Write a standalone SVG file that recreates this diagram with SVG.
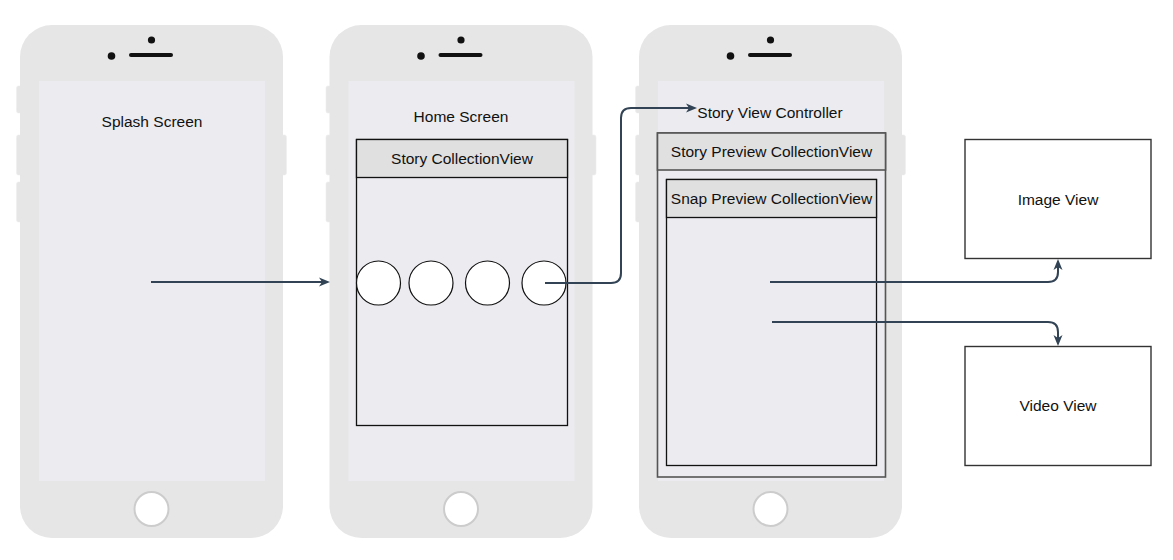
<svg xmlns="http://www.w3.org/2000/svg" width="1173" height="560" viewBox="0 0 1173 560">
  <style>
    .body { fill: #e6e6e6; }
    .btn { fill: #e6e6e6; stroke: #efefef; stroke-width: 0.6; }
    .screen { fill: #ebebf0; }
    .dot { fill: #111; }
    .speaker { stroke: #111; stroke-width: 4; stroke-linecap: round; fill: none; }
    .home { fill: #fff; stroke: #cccccc; stroke-width: 2; }
    .lbl { font-family: "Liberation Sans", Arial, Helvetica, sans-serif; font-size: 15.5px; fill: #111; text-anchor: middle; }
    .hdr { fill: #e0e0e0; stroke: #111; stroke-width: 1.3; }
    .frame { fill: none; stroke: #111; stroke-width: 1.3; }
    .outer { fill: none; stroke: #555; stroke-width: 1.6; }
    .cell { fill: #fff; stroke: #111; stroke-width: 1.2; }
    .box { fill: #fff; stroke: #333; stroke-width: 1.4; }
    .edge { fill: none; stroke: #314354; stroke-width: 2; marker-end: url(#arrow); }
  </style>
  <defs>
    <marker id="arrow" markerUnits="userSpaceOnUse" markerWidth="12" markerHeight="11" refX="3" refY="5" orient="auto" viewBox="0 0 12 11">
      <path d="M0,0.5 L11,5 L0,9.5 L3,5 Z" fill="#314354"/>
    </marker>
    <!-- phone shell reused for all three screens -->
    <g id="phone">
      <rect class="btn" x="16.5" y="86" width="6" height="27" rx="2"/>
      <rect class="btn" x="16.5" y="135" width="6" height="40" rx="2"/>
      <rect class="btn" x="16.5" y="182" width="6" height="40" rx="2"/>
      <rect class="btn" x="280.5" y="135" width="6" height="40" rx="2"/>
      <rect class="body" x="20" y="25" width="263" height="513" rx="32"/>
      <rect class="screen" x="39" y="81" width="226" height="400"/>
      <circle class="dot" cx="111.5" cy="56" r="3.8"/>
      <circle class="dot" cx="151.5" cy="40" r="3.6"/>
      <line class="speaker" x1="131" y1="55" x2="171" y2="55"/>
      <circle class="home" cx="151.5" cy="509" r="17"/>
    </g>
  </defs>

  <g id="splash-screen">
    <use href="#phone"/>
    <text class="lbl" x="152" y="127">Splash Screen</text>
  </g>

  <g id="home-screen">
    <use href="#phone" transform="translate(309.5,0)"/>
    <text class="lbl" x="461" y="122">Home Screen</text>
  </g>

  <g id="story-collection-view">
    <rect class="frame" x="356.5" y="139.5" width="211" height="286"/>
    <rect class="hdr" x="356.5" y="139.5" width="211" height="38"/>
    <text class="lbl" x="462" y="164">Story CollectionView</text>
  </g>

  <g id="story-cells">
    <circle class="cell" cx="378.5" cy="283" r="22"/>
    <circle class="cell" cx="431" cy="283" r="22"/>
    <circle class="cell" cx="487.5" cy="283" r="22"/>
    <circle class="cell" cx="544" cy="283" r="22"/>
  </g>

  <g id="story-view-controller">
    <use href="#phone" transform="translate(619,0)"/>
    <text class="lbl" x="770" y="118">Story View Controller</text>
  </g>

  <g id="story-preview-collection-view">
    <rect class="outer" x="657.5" y="133" width="228" height="344"/>
    <rect class="hdr" x="657.5" y="133" width="228" height="37" style="stroke:#555;stroke-width:1.6"/>
    <text class="lbl" x="771.5" y="157">Story Preview CollectionView</text>
  </g>

  <g id="snap-preview-collection-view">
    <rect class="frame" x="666.5" y="179.5" width="210" height="286"/>
    <rect class="hdr" x="666.5" y="179.5" width="210" height="38"/>
    <text class="lbl" x="771.5" y="204">Snap Preview CollectionView</text>
  </g>

  <g id="image-view">
    <rect class="box" x="965" y="139.5" width="186" height="119"/>
    <text class="lbl" x="1058" y="205">Image View</text>
  </g>

  <g id="video-view">
    <rect class="box" x="965" y="346.5" width="186" height="119"/>
    <text class="lbl" x="1058" y="411">Video View</text>
  </g>

  <g id="connectors">
    <path class="edge" d="M151,282 H322"/>
    <path class="edge" d="M545,283 H611 Q621,283 621,273 V118 Q621,108 631,108 H689"/>
    <path class="edge" d="M770,282 H1048 Q1058,282 1058,272 V267"/>
    <path class="edge" d="M772,322 H1048 Q1058,322 1058,332 V338"/>
  </g>
</svg>
